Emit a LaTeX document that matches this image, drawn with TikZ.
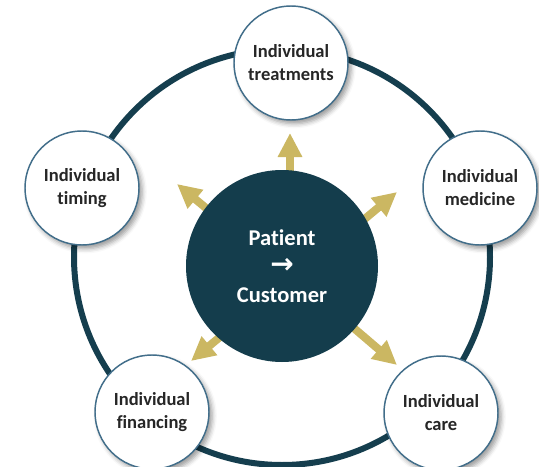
\documentclass[tikz,border=0pt]{standalone}
\usepackage{fontspec}
\setmainfont{Carlito}[Ligatures=NoCommon]
\newfontfamily\arrowfont{DejaVu Sans}
\usetikzlibrary{arrows.meta,shadows.blur}

\definecolor{ringteal}{RGB}{21,62,78}
\definecolor{hubteal}{RGB}{20,61,76}
\definecolor{edgeblue}{RGB}{66,110,138}
\definecolor{goldarrow}{RGB}{203,183,98}
\definecolor{labelgray}{RGB}{38,38,38}

\tikzset{every picture/.style={line width=0.75pt}}
\tikzset{
    topic/.style={circle, draw=edgeblue, line width=1.1pt, fill=white, minimum size=85.5pt, inner sep=0pt,
        align=center, text=labelgray, font=\bfseries\fontsize{13.9}{17.3}\selectfont,
        blur shadow={shadow xshift=2.4pt, shadow yshift=-2.8pt, shadow blur radius=3.5pt, shadow opacity=40}},
    hubnode/.style={circle, fill=hubteal, minimum size=144pt, inner sep=0pt, align=center,
        text=white, font=\bfseries\fontsize{16.9}{21.4}\selectfont},
    outarrow/.style={draw=goldarrow, line width=6pt, -{Triangle[width=17.25pt,length=18pt,fill=goldarrow]}}
}

\begin{document}
\begin{tikzpicture}[x=0.75pt,y=0.75pt,yscale=-1,xscale=1]
    \useasboundingbox (0,0) rectangle (539,467);

    %Shape: Circle (outer ring)
    \coordinate (ringc) at (282,257);
    \draw [ringteal, line width=4.5pt] (ringc) circle [radius=208];

    % Arrow ends
    \coordinate (baseT) at (290,190);   \coordinate (tipT) at (290,133);
    \coordinate (baseUL) at (218,218);  \coordinate (tipUL) at (177,184);
    \coordinate (baseUR) at (355,227);  \coordinate (tipUR) at (397,192);
    \coordinate (baseLL) at (232,327);  \coordinate (tipLL) at (191,361);
    \coordinate (baseLR) at (342,318);  \coordinate (tipLR) at (397,365);

    %Straight Lines
    \draw [outarrow] (baseT) -- (tipT);
    \draw [outarrow] (baseUL) -- (tipUL);
    \draw [outarrow] (baseUR) -- (tipUR);
    \draw [outarrow] (baseLL) -- (tipLL);
    \draw [outarrow] (baseLR) -- (tipLR);

    %Shape: Circle (hub)
    \node [hubnode] (hub) at (282,266) {Patient\\{\arrowfont\fontsize{21}{21.4}\selectfont →}\\Customer};

    % Text Node
    \node [topic] (treatments) at (291,63) {Individual\\treatments};
    % Text Node
    \node [topic] (medicine) at (480,188) {Individual\\medicine};
    % Text Node
    \node [topic] (care) at (441,413) {Individual\\care};
    % Text Node
    \node [topic] (financing) at (152,412) {Individual\\financing};
    % Text Node
    \node [topic] (timing) at (82,188) {Individual\\timing};

\end{tikzpicture}
\end{document}
